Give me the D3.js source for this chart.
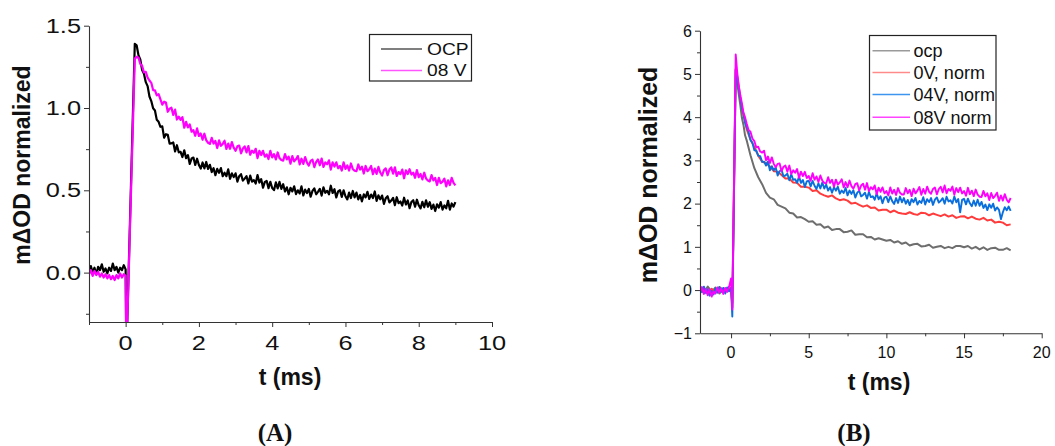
<!DOCTYPE html>
<html><head><meta charset="utf-8">
<script src="https://cdn.jsdelivr.net/npm/d3@7"></script>
<style>body{margin:0;background:#fff}svg{display:block}</style>
</head><body>
<script>
// ---------- Panel A data (t in ms) ----------
const tA = [-1,-0.95,-0.9,-0.85,-0.8,-0.75,-0.7,-0.65,-0.6,-0.55,-0.5,-0.45,-0.4,-0.35,-0.3,-0.25,-0.2,-0.15,-0.1,-0.05,0,
0.02,0.25,
0.3,0.35,0.4,0.45,0.5,0.55,0.6,0.65,0.7,0.75,0.8,0.85,0.9,0.95,1,1.05,1.1,1.15,1.2,1.25,
1.3,1.35,1.4,1.45,1.5,1.55,1.6,1.65,1.7,1.75,1.8,1.85,1.9,1.95,2,2.05,2.1,2.15,2.2,2.25,
2.3,2.35,2.4,2.45,2.5,2.55,2.6,2.65,2.7,2.75,2.8,2.85,2.9,2.95,3,3.05,3.1,3.15,3.2,3.25,
3.3,3.35,3.4,3.45,3.5,3.55,3.6,3.65,3.7,3.75,3.8,3.85,3.9,3.95,4,4.05,4.1,4.15,4.2,4.25,
4.3,4.35,4.4,4.45,4.5,4.55,4.6,4.65,4.7,4.75,4.8,4.85,4.9,4.95,5,5.05,5.1,5.15,5.2,5.25,
5.3,5.35,5.4,5.45,5.5,5.55,5.6,5.65,5.7,5.75,5.8,5.85,5.9,5.95,6,6.05,6.1,6.15,6.2,6.25,
6.3,6.35,6.4,6.45,6.5,6.55,6.6,6.65,6.7,6.75,6.8,6.85,6.9,6.95,7,7.05,7.1,7.15,7.2,7.25,
7.3,7.35,7.4,7.45,7.5,7.55,7.6,7.65,7.7,7.75,7.8,7.85,7.9,7.95,8,8.05,8.1,8.15,8.2,8.25,
8.3,8.35,8.4,8.45,8.5,8.55,8.6,8.65,8.7,8.75,8.8,8.85,8.9,8.95,9];
const ocpA = [0.005,0.040,0.000,0.030,-0.010,0.035,0.015,0.050,0.005,0.025,-0.005,0.030,0.010,0.055,0.015,0.035,0.000,0.030,0.015,0.045,0.020,
-0.5,1.39,
1.381,1.321,1.295,1.231,1.208,1.157,1.133,1.070,1.042,0.998,0.985,0.928,0.916,0.886,0.888,0.820,0.841,0.837,0.784,0.785,
0.791,0.736,0.774,0.731,0.734,0.702,0.743,0.695,0.714,0.660,0.693,0.699,0.654,0.692,0.654,0.632,0.669,0.633,0.672,0.630,
0.655,0.611,0.634,0.592,0.630,0.606,0.635,0.586,0.607,0.586,0.627,0.570,0.603,0.580,0.603,0.553,0.586,0.598,0.559,0.571,
0.586,0.542,0.589,0.553,0.562,0.541,0.593,0.547,0.568,0.516,0.551,0.557,0.513,0.552,0.514,0.501,0.548,0.512,0.551,0.509,
0.537,0.493,0.518,0.476,0.515,0.493,0.524,0.477,0.500,0.481,0.524,0.469,0.504,0.483,0.508,0.461,0.497,0.512,0.476,0.491,
0.509,0.468,0.518,0.485,0.497,0.476,0.528,0.484,0.507,0.457,0.493,0.501,0.460,0.500,0.464,0.445,0.486,0.453,0.496,0.457,
0.486,0.445,0.472,0.433,0.475,0.457,0.491,0.448,0.474,0.453,0.493,0.436,0.469,0.445,0.468,0.418,0.452,0.464,0.426,0.438,
0.454,0.410,0.458,0.422,0.432,0.407,0.455,0.414,0.438,0.391,0.429,0.440,0.400,0.443,0.409,0.390,0.430,0.397,0.439,0.400,
0.428,0.387,0.413,0.374,0.415,0.395,0.428,0.383,0.408,0.391,0.436,0.383,0.420,0.401,0.428];
const v08A = [-0.010,0.015,-0.020,0.010,-0.015,0.005,-0.025,-0.005,-0.030,-0.010,-0.035,-0.015,-0.040,-0.020,-0.045,-0.015,-0.035,-0.005,-0.030,-0.010,-0.020,
-0.5,1.30,
1.311,1.307,1.267,1.256,1.216,1.220,1.185,1.167,1.153,1.109,1.107,1.077,1.084,1.053,1.020,1.038,1.033,0.977,0.996,1.002,
0.958,0.990,0.930,0.948,0.928,0.944,0.880,0.916,0.882,0.900,0.856,0.865,0.831,0.876,0.830,0.845,0.807,0.844,0.804,0.789,
0.782,0.819,0.784,0.800,0.757,0.803,0.770,0.782,0.801,0.751,0.784,0.752,0.793,0.759,0.740,0.767,0.772,0.725,0.754,0.767,
0.730,0.769,0.716,0.741,0.728,0.752,0.696,0.740,0.714,0.740,0.704,0.718,0.690,0.740,0.700,0.720,0.688,0.730,0.696,0.684,
0.680,0.720,0.688,0.704,0.662,0.708,0.676,0.688,0.708,0.658,0.692,0.660,0.702,0.668,0.650,0.679,0.686,0.641,0.672,0.687,
0.652,0.693,0.642,0.669,0.658,0.682,0.626,0.670,0.644,0.670,0.634,0.648,0.620,0.670,0.630,0.651,0.620,0.663,0.630,0.619,
0.616,0.657,0.626,0.643,0.602,0.648,0.616,0.628,0.648,0.598,0.632,0.600,0.642,0.608,0.590,0.623,0.633,0.592,0.626,0.639,
0.601,0.640,0.587,0.611,0.598,0.626,0.573,0.621,0.599,0.628,0.596,0.607,0.576,0.623,0.580,0.599,0.566,0.607,0.572,0.559,
0.554,0.593,0.560,0.575,0.532,0.576,0.543,0.553,0.571,0.524,0.561,0.532,0.576,0.545,0.530];
const namesA = ["OCP","08 V"];
const xTicksA = [0,2,4,6,8,10];
const xMinorA = [-1,1,3,5,7,9];
const yTicksA = [0.0,0.5,1.0,1.5];
const yMinorA = [-0.25,0.25,0.75,1.25];

// ---------- Panel B data (t in ms) ----------
// coarse time grid: ocp and 0V traces
const tB = [-2,-1.75,-1.5,-1.25,-1,-0.75,-0.5,-0.25,0,0.08,
0.3,0.4,0.5,0.6,0.7,0.8,0.9,1,
1.25,1.5,1.75,2,2.25,2.5,2.75,3,3.25,3.5,
3.75,4,4.25,4.5,4.75,5,5.25,5.5,5.75,6,
6.25,6.5,6.75,7,7.25,7.5,7.75,8,8.25,8.5,
8.75,9,9.25,9.5,9.75,10,10.25,10.5,10.75,11,
11.25,11.5,11.75,12,12.25,12.5,12.75,13,13.25,13.5,
13.75,14,14.25,14.5,14.75,15,15.25,15.5,15.75,16,
16.25,16.5,16.75,17,17.25,17.5,17.75,18];
const ocpB = [0.05,-0.06,0.08,-0.04,0.06,-0.08,0.04,-0.03,0.06,-0.3,
5.10,4.80,4.52,4.27,3.98,3.82,3.58,3.47,
3.12,2.82,2.61,2.45,2.25,2.14,2.10,1.97,1.93,1.89,
1.79,1.77,1.68,1.69,1.64,1.58,1.59,1.51,1.52,1.44,
1.47,1.39,1.41,1.41,1.34,1.35,1.38,1.28,1.29,1.29,
1.22,1.23,1.17,1.20,1.17,1.14,1.16,1.10,1.13,1.07,
1.10,1.03,1.06,1.07,1.01,1.02,1.05,0.98,1.00,1.02,
0.97,1.00,0.97,1.02,1.02,0.99,1.02,0.96,1.00,0.94,
0.99,0.93,0.97,0.98,0.93,0.93,0.97,0.92];
const v0B = [-0.04,0.05,-0.09,0.03,-0.06,0.07,-0.02,0.04,0.02,-0.4,
5.12,4.93,4.70,4.42,4.24,4.03,3.92,3.73,
3.48,3.31,3.11,2.97,2.94,2.86,2.75,2.74,2.66,2.58,
2.58,2.49,2.48,2.39,2.39,2.37,2.29,2.31,2.23,2.19,
2.16,2.19,2.12,2.08,2.10,2.07,2.00,2.02,1.97,1.93,
1.96,1.90,1.91,1.84,1.86,1.86,1.80,1.84,1.79,1.77,
1.76,1.80,1.76,1.74,1.79,1.78,1.73,1.77,1.74,1.71,
1.75,1.70,1.73,1.67,1.70,1.71,1.66,1.70,1.65,1.63,
1.67,1.61,1.63,1.56,1.58,1.56,1.50,1.52];
// fine time grid: 04V and 08V traces
const tBf = [-2,-1.875,-1.75,-1.625,-1.5,-1.375,-1.25,-1.125,-1,-0.875,-0.75,-0.625,-0.5,-0.375,-0.25,-0.125,0,
0.08,
0.3,0.4,0.5,0.6,0.7,0.8,0.9,1,
1.125,1.25,1.375,1.5,1.625,1.75,1.875,2,2.125,2.25,2.375,2.5,2.625,2.75,2.875,3,3.125,3.25,3.375,3.5,
3.625,3.75,3.875,4,4.125,4.25,4.375,4.5,4.625,4.75,4.875,5,5.125,5.25,5.375,5.5,5.625,5.75,5.875,6,
6.125,6.25,6.375,6.5,6.625,6.75,6.875,7,7.125,7.25,7.375,7.5,7.625,7.75,7.875,8,8.125,8.25,8.375,8.5,
8.625,8.75,8.875,9,9.125,9.25,9.375,9.5,9.625,9.75,9.875,10,10.125,10.25,10.375,10.5,10.625,10.75,10.875,11,
11.125,11.25,11.375,11.5,11.625,11.75,11.875,12,12.125,12.25,12.375,12.5,12.625,12.75,12.875,13,13.125,13.25,13.375,13.5,
13.625,13.75,13.875,14,14.125,14.25,14.375,14.5,14.625,14.75,14.875,15,15.125,15.25,15.375,15.5,15.625,15.75,15.875,16,
16.125,16.25,16.375,16.5,16.625,16.75,16.875,17,17.125,17.25,17.375,17.5,17.625,17.75,17.875,18];
const v04B = [0.06,-0.05,0.08,-0.07,0.02,-0.13,-0.02,-0.10,0.04,-0.06,0.07,-0.04,0.05,-0.08,0.06,-0.03,0.05,
-0.61,
5.08,4.88,4.63,4.43,4.20,4.08,3.87,3.77,
3.660,3.470,3.405,3.235,3.225,3.110,3.100,2.965,2.970,2.880,2.975,2.770,2.865,2.770,2.835,2.650,2.750,2.780,2.635,2.650,
2.690,2.540,2.680,2.550,2.565,2.480,2.625,2.480,2.548,2.385,2.513,2.530,2.398,2.525,2.413,2.340,2.470,2.350,2.490,2.350,
2.440,2.300,2.380,2.250,2.380,2.300,2.390,2.230,2.303,2.245,2.368,2.190,2.303,2.225,2.308,2.140,2.253,2.295,2.168,2.200,
2.253,2.115,2.268,2.150,2.170,2.090,2.240,2.100,2.170,2.010,2.140,2.160,2.033,2.165,2.058,1.990,2.128,2.015,2.163,2.030,
2.129,1.998,2.086,1.965,2.104,2.033,2.131,1.980,2.063,2.015,2.148,1.980,2.103,2.035,2.128,1.970,2.091,2.143,2.024,2.065,
2.126,1.998,2.159,2.050,2.078,2.005,2.163,2.030,2.105,1.800,2.085,2.110,1.983,2.115,2.008,1.940,2.070,1.950,2.090,1.950,
2.040,1.900,1.980,1.850,1.983,1.905,1.998,1.840,1.913,1.855,1.640,1.800,1.918,1.845,1.933,1.830];
const v08B = [-0.05,0.07,-0.09,0.03,-0.12,0.02,-0.15,-0.03,-0.08,0.06,-0.06,0.04,-0.09,0.05,-0.04,0.08,0.27,
-0.45,
5.45,5.02,4.72,4.50,4.32,4.10,4.00,3.86,
3.705,3.665,3.505,3.445,3.300,3.315,3.205,3.180,3.225,3.000,3.090,2.940,3.070,2.920,2.840,2.920,2.930,2.750,2.850,2.880,
2.735,2.880,2.685,2.770,2.715,2.800,2.595,2.740,2.638,2.735,2.593,2.640,2.528,2.705,2.553,2.630,2.500,2.650,2.530,2.480,
2.470,2.610,2.480,2.550,2.393,2.555,2.438,2.490,2.563,2.375,2.498,2.380,2.533,2.405,2.348,2.450,2.473,2.305,2.418,2.460,
2.323,2.475,2.288,2.380,2.330,2.420,2.220,2.370,2.273,2.375,2.238,2.290,2.188,2.375,2.233,2.320,2.200,2.360,2.250,2.210,
2.210,2.360,2.240,2.320,2.173,2.345,2.238,2.300,2.383,2.205,2.338,2.230,2.393,2.275,2.228,2.340,2.373,2.215,2.338,2.390,
2.260,2.420,2.240,2.340,2.298,2.395,2.203,2.360,2.265,2.370,2.235,2.290,2.183,2.365,2.218,2.300,2.173,2.325,2.208,2.160,
2.153,2.295,2.168,2.240,2.083,2.245,2.128,2.180,2.253,2.065,2.188,2.070,2.220,2.090,2.030,2.130];
const namesB = ["ocp","0V, norm","04V, norm","08V norm"];
const xTicksB = [0,5,10,15,20];
const xMinorB = [2.5,7.5,12.5,17.5];
const yTicksB = [-1,0,1,2,3,4,5,6];
const yMinorB = [-0.5,0.5,1.5,2.5,3.5,4.5,5.5];

// ---------- drawing ----------
const SANS = "'Liberation Sans', Arial, Helvetica, sans-serif";
const SERIF = "'Liberation Serif', 'Times New Roman', Times, serif";
const AX = "#333";
const svg = d3.select("body").append("svg").attr("width",1055).attr("height",446);
svg.append("rect").attr("width",1055).attr("height",446).attr("fill","#fff");

function panel(o){
  const g = svg.append("g");
  const x = o.x, y = o.y;
  const [x0,x1] = x.range(), [yb,yt] = y.range();
  const cid = "clip"+o.id;
  g.append("clipPath").attr("id",cid).append("rect")
    .attr("x",x0).attr("y",yt).attr("width",x1-x0).attr("height",yb-yt);
  const pg = g.append("g").attr("clip-path",`url(#${cid})`);
  o.series.forEach(s=>{
    const pts = s.t.map((t,i)=>[t,s.v[i]]);
    pg.append("path").datum(pts)
      .attr("d", d3.line().x(d=>x(d[0])).y(d=>y(d[1])))
      .attr("fill","none").attr("stroke",s.c).attr("stroke-width",s.sw)
      .attr("stroke-linejoin","round");
  });
  g.append("g").attr("transform",`translate(0,${yb})`)
    .call(d3.axisBottom(x).tickValues(o.xt).tickSize(5).tickSizeOuter(0).tickFormat(""));
  g.append("g").attr("transform",`translate(0,${yb})`)
    .call(d3.axisBottom(x).tickValues(o.xm).tickSize(3).tickFormat(""))
    .select(".domain").remove();
  g.append("g").attr("transform",`translate(${x0},0)`)
    .call(d3.axisLeft(y).tickValues(o.yt).tickSize(5).tickSizeOuter(0).tickFormat(""));
  g.append("g").attr("transform",`translate(${x0},0)`)
    .call(d3.axisLeft(y).tickValues(o.ym).tickSize(3).tickFormat(""))
    .select(".domain").remove();
  g.selectAll(".domain").attr("stroke",AX).attr("stroke-width",1.1);
  g.selectAll(".tick line").attr("stroke",AX).attr("stroke-width",1);
  o.yt.forEach(v=>{
    g.append("text").text(o.yf(v))
      .attr("transform",`translate(${x0-o.ylOff},${y(v)+o.yBase}) scale(${o.sx},1)`)
      .attr("text-anchor","end").attr("font-family",SANS).attr("font-size",o.fs).attr("fill","#111");
  });
  o.xt.forEach(v=>{
    g.append("text").text(o.xf(v))
      .attr("transform",`translate(${x(v)},${o.xlBase}) scale(${o.sx},1)`)
      .attr("text-anchor","middle").attr("font-family",SANS).attr("font-size",o.fs).attr("fill","#111");
  });
  g.append("text").text("t (ms)").attr("x",o.xtX).attr("y",o.xtY)
    .attr("text-anchor","middle").attr("font-family",SANS).attr("font-weight","bold")
    .attr("font-size",23).attr("fill","#111");
  g.append("text").text("m\u0394OD normalized")
    .attr("transform",`translate(${o.ytX},${o.ytY}) rotate(-90)`)
    .attr("text-anchor","middle").attr("font-family",SANS).attr("font-weight","bold")
    .attr("font-size",o.ytFs).attr("fill","#111");
  g.append("text").text(o.tag).attr("x",o.tagX).attr("y",441)
    .attr("text-anchor","middle").attr("font-family",SERIF).attr("font-weight","bold")
    .attr("font-size",25).attr("fill","#111");
  const L = o.leg;
  g.append("rect").attr("x",L.x).attr("y",L.y).attr("width",L.w).attr("height",L.h)
    .attr("fill","#fff").attr("stroke","#222").attr("stroke-width",1.2);
  o.series.forEach((s,i)=>{
    const ly = L.rows[i];
    g.append("line").attr("x1",L.lx1).attr("x2",L.lx2).attr("y1",ly).attr("y2",ly)
      .attr("stroke",s.lc).attr("stroke-width",1.5);
    g.append("text").text(s.name)
      .attr("transform",`translate(${L.tx},${ly+L.tdy}) scale(${L.sx},1)`)
      .attr("font-family",SANS).attr("font-size",L.fs).attr("fill","#111");
  });
}

panel({
  id:"A",
  x: d3.scaleLinear().domain([-1,10]).range([89,492]),
  y: d3.scaleLinear().domain([-0.3,1.5]).range([322,25.7]),
  series:[{name:namesA[0],t:tA,v:ocpA,c:"#000",lc:"#555",sw:2.2},
          {name:namesA[1],t:tA,v:v08A,c:"#ff00ff",lc:"#ff55ff",sw:2.2}],
  xt:xTicksA, xm:xMinorA, yt:yTicksA, ym:yMinorA,
  yf:d3.format(".1f"), xf:d3.format("d"),
  fs:19.5, sx:1.3, ylOff:8, yBase:7, xlBase:349.5,
  xtX:290, xtY:385, ytX:30, ytY:165, ytFs:23,
  tag:"(A)", tagX:275,
  leg:{x:369.5,y:34.5,w:102,h:46.5,lx1:381,lx2:422,tx:427,tdy:5.8,fs:16,sx:1.2,rows:[49,70.5]}
});

panel({
  id:"B",
  x: d3.scaleLinear().domain([-2,20]).range([700,1041.7]),
  y: d3.scaleLinear().domain([-1,6]).range([333.3,30.7]),
  series:[{name:namesB[0],t:tB,v:ocpB,c:"#6e6e6e",lc:"#9a9a9a",sw:2.0},
          {name:namesB[1],t:tB,v:v0B,c:"#ff3b3b",lc:"#ff8a8a",sw:2.0},
          {name:namesB[2],t:tBf,v:v04B,c:"#0a6fdc",lc:"#3d95f0",sw:1.9},
          {name:namesB[3],t:tBf,v:v08B,c:"#ff00ff",lc:"#ff44ff",sw:1.9}],
  xt:xTicksB, xm:xMinorB, yt:yTicksB, ym:yMinorB,
  yf:d3.format("d"), xf:d3.format("d"),
  fs:16, sx:1, ylOff:8, yBase:5.8, xlBase:358,
  xtX:879, xtY:390, ytX:657, ytY:175, ytFs:25,
  tag:"(B)", tagX:854,
  leg:{x:869.5,y:35.5,w:126.5,h:94.5,lx1:872.5,lx2:910,tx:913.5,tdy:6.3,fs:18,sx:1,rows:[50.7,72.5,94.5,117.3]}
});
</script>
</body></html>
